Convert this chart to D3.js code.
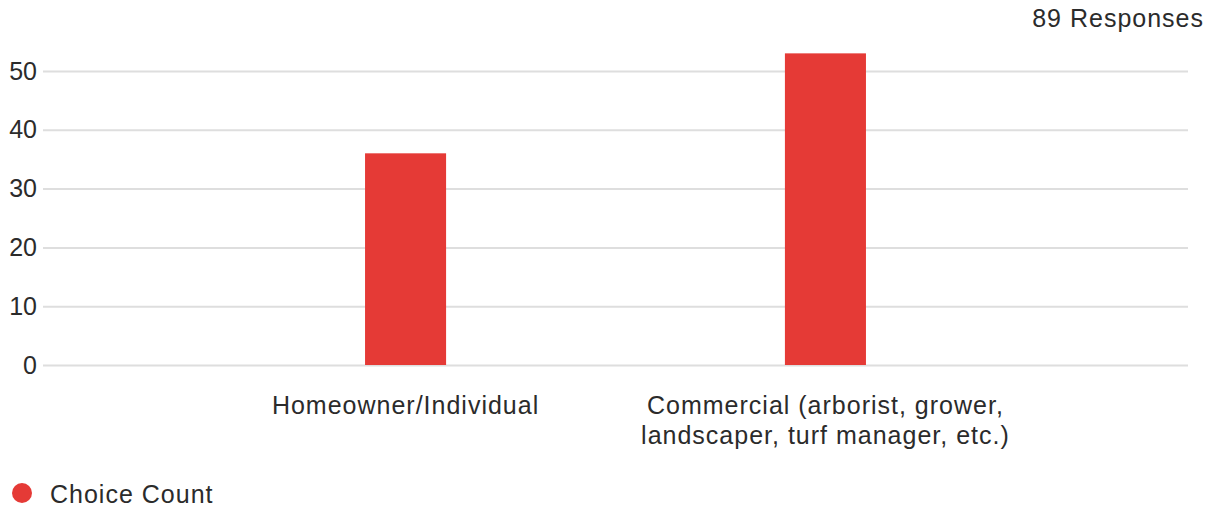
<!DOCTYPE html>
<html>
<head>
<meta charset="utf-8">
<script src="https://cdn.jsdelivr.net/npm/d3@7"></script>
<style>
  html, body { margin: 0; padding: 0; background: #fff; }
  svg { display: block; }
  text { font-family: "Liberation Sans", Arial, sans-serif; fill: #2b2b2b; }
</style>
</head>
<body>
<svg id="chart" width="1219" height="508"></svg>
<script>
const categories = ["Homeowner/Individual", "Commercial (arborist, grower, landscaper, turf manager, etc.)"];
const categoryLines = [["Homeowner/Individual"], ["Commercial (arborist, grower,", "landscaper, turf manager, etc.)"]];
const values = [36, 53];
const yTicks = [0, 10, 20, 30, 40, 50];
const seriesName = "Choice Count";
const responsesLabel = "89 Responses";

const svg = d3.select("#chart");
const mLeft = 43, mRight = 1188, mTop = 71, mBottom = 365;
const fontSize = 25;
const spacing = "1px";

const y = d3.scaleLinear().domain([0, 50]).range([mBottom, mTop]);
const x = d3.scaleBand().domain(categories).range([mLeft, mRight]).paddingInner(0.807).paddingOuter(0.767);

// grid
const grid = svg.append("g").attr("class", "grid")
  .attr("transform", `translate(${mLeft},0)`)
  .call(d3.axisLeft(y).tickValues(yTicks).tickSize(-(mRight - mLeft)).tickFormat(""));
grid.select(".domain").remove();
grid.selectAll(".tick line").attr("stroke", "#dedede").attr("stroke-width", 2);

// y labels
const yAxis = svg.append("g")
  .attr("transform", `translate(${mLeft},0)`)
  .call(d3.axisLeft(y).tickValues(yTicks).tickSize(0).tickPadding(6));
yAxis.select(".domain").remove();
yAxis.selectAll("text").style("font-size", fontSize + "px").attr("fill", "#2b2b2b")
  .style("font-family", '"Liberation Sans", Arial, sans-serif');

// bars
svg.append("g").selectAll("rect").data(categories).join("rect")
  .attr("x", d => x(d))
  .attr("width", x.bandwidth())
  .attr("y", (d, i) => y(values[i]))
  .attr("height", (d, i) => y(0) - y(values[i]))
  .attr("fill", "#e53a36");

// x labels
const xl = svg.append("g").selectAll("text").data(categories).join("text")
  .attr("text-anchor", "middle")
  .style("font-size", fontSize + "px")
  .style("letter-spacing", spacing)
  .attr("x", d => x(d) + x.bandwidth() / 2)
  .attr("y", 414);
xl.each(function (d, i) {
  const t = d3.select(this);
  categoryLines[i].forEach((line, j) => {
    t.append("tspan").attr("x", x(d) + x.bandwidth() / 2).attr("dy", j === 0 ? 0 : 30).text(line);
  });
});

// responses label
svg.append("text").attr("x", 1204).attr("y", 27).attr("text-anchor", "end")
  .style("font-size", fontSize + "px").style("letter-spacing", spacing).text(responsesLabel);

// legend
svg.append("circle").attr("cx", 22).attr("cy", 493).attr("r", 10).attr("fill", "#e53a36");
svg.append("text").attr("x", 50).attr("y", 503)
  .style("font-size", fontSize + "px").style("letter-spacing", spacing).text(seriesName);
</script>
</body>
</html>
